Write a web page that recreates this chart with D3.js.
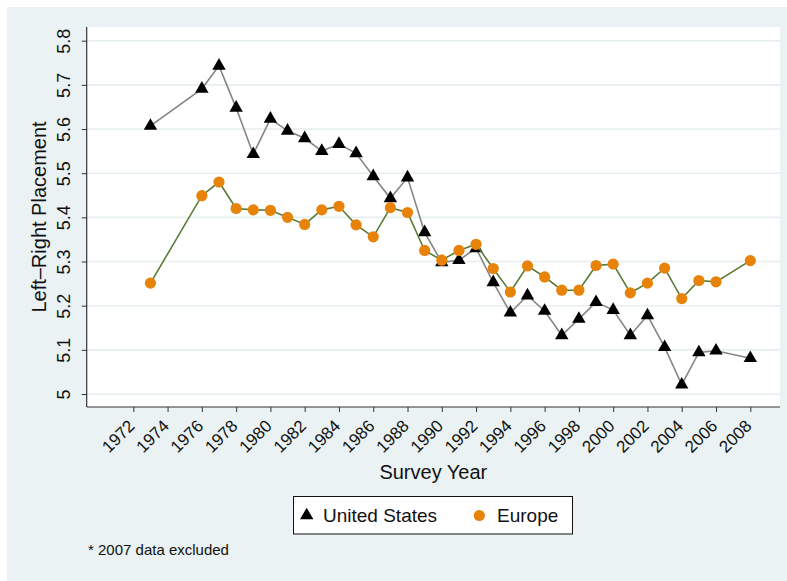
<!DOCTYPE html>
<html lang="en">

<head>
  <meta charset="utf-8">
  <title>Left-Right Placement</title>
  <script src="https://d3js.org/d3.v7.min.js" charset="utf-8"></script>
  <style type="text/css">
    body {
      margin: 0;
      background: #fff;
    }

    text {
      font-family: "Liberation Sans", Arial, sans-serif;
      fill: #111;
    }
  </style>
</head>

<body>

  <svg id="chart"></svg>

  <script type="text/javascript">
    // survey years (2007 excluded)
    const years = [1973, 1976, 1977, 1978, 1979, 1980, 1981, 1982, 1983, 1984, 1985,
      1986, 1987, 1988, 1989, 1990, 1991, 1992, 1993, 1994, 1995, 1996, 1997,
      1998, 1999, 2000, 2001, 2002, 2003, 2004, 2005, 2006, 2008];

    const usValues = [5.607, 5.691, 5.743, 5.648, 5.543, 5.623, 5.596, 5.579, 5.550,
      5.566, 5.545, 5.493, 5.443, 5.490, 5.366, 5.298, 5.303, 5.330, 5.253,
      5.184, 5.223, 5.188, 5.133, 5.170, 5.208, 5.190, 5.133, 5.178, 5.106,
      5.021, 5.094, 5.098, 5.081];

    const europeValues = [5.251, 5.449, 5.480, 5.420, 5.417, 5.416, 5.400, 5.384,
      5.417, 5.425, 5.383, 5.356, 5.422, 5.411, 5.325, 5.303, 5.325, 5.339,
      5.284, 5.231, 5.290, 5.265, 5.235, 5.235, 5.291, 5.294, 5.229, 5.251,
      5.285, 5.216, 5.257, 5.254, 5.302];

    const xTicks = d3.range(1972, 2009, 2);
    const yTicks = [5, 5.1, 5.2, 5.3, 5.4, 5.5, 5.6, 5.7, 5.8];

    const W = 787;
    const H = 581;
    const plot = { left: 86.7, top: 27, right: 780, bottom: 407 };

    const svg = d3.select("#chart")
      .attr("width", W)
      .attr("height", H);

    // outer graph region
    svg.append("rect")
      .attr("x", 7).attr("y", 7)
      .attr("width", W - 7).attr("height", H - 7)
      .attr("fill", "#eaf2f3");

    svg.append("rect")
      .attr("x", plot.left).attr("y", plot.top)
      .attr("width", plot.right - plot.left)
      .attr("height", plot.bottom - plot.top)
      .attr("fill", "#fff");

    const xScale = d3.scaleLinear()
      .domain([1972, 2008])
      .range([133.3, 750.3]);

    const yScale = d3.scaleLinear()
      .domain([5, 5.8])
      .range([394, 40.7]);

    // grid
    svg.append("g")
      .selectAll("line")
      .data(yTicks)
      .join("line")
      .attr("x1", plot.left)
      .attr("x2", plot.right)
      .attr("y1", d => yScale(d))
      .attr("y2", d => yScale(d))
      .attr("stroke", "#e6eef0")
      .attr("stroke-width", 1.6);

    // y axis
    const yAxis = svg.append("g")
      .attr("transform", `translate(${plot.left},0)`)
      .call(d3.axisLeft(yScale)
        .tickValues(yTicks)
        .tickSize(5)
        .tickFormat(d3.format("")));
    yAxis.select(".domain").remove();
    yAxis.selectAll(".tick line").attr("stroke", "#333");
    yAxis.selectAll(".tick text")
      .attr("transform", "rotate(-90)")
      .attr("x", 0)
      .attr("y", -16.5)
      .attr("dy", 0)
      .attr("text-anchor", "middle")
      .style("font-size", "18px")
      .style("font-family", "'Liberation Sans', Arial, sans-serif")
      .attr("fill", "#111");

    // x axis
    const xAxis = svg.append("g")
      .attr("transform", `translate(0,${plot.bottom})`)
      .call(d3.axisBottom(xScale)
        .tickValues(xTicks)
        .tickSize(5)
        .tickFormat(d3.format("d")));
    xAxis.select(".domain").remove();
    xAxis.selectAll(".tick line").attr("stroke", "#333");
    xAxis.selectAll(".tick text")
      .attr("transform", "translate(2,20) rotate(-45)")
      .attr("x", 0)
      .attr("y", 0)
      .attr("dy", 0)
      .attr("text-anchor", "end")
      .style("font-size", "17px")
      .style("font-family", "'Liberation Sans', Arial, sans-serif")
      .attr("fill", "#111");

    // axis lines
    svg.append("line")
      .attr("x1", plot.left).attr("x2", plot.left)
      .attr("y1", plot.top).attr("y2", plot.bottom)
      .attr("stroke", "#333").attr("stroke-width", 1.2);
    svg.append("line")
      .attr("x1", plot.left).attr("x2", plot.right)
      .attr("y1", plot.bottom).attr("y2", plot.bottom)
      .attr("stroke", "#333").attr("stroke-width", 1.2);

    // titles
    svg.append("text")
      .attr("transform", `translate(46,${(plot.top + plot.bottom) / 2}) rotate(-90)`)
      .attr("text-anchor", "middle")
      .style("font-size", "20px")
      .text("Left\u2013Right Placement");

    svg.append("text")
      .attr("x", (plot.left + plot.right) / 2)
      .attr("y", 479)
      .attr("text-anchor", "middle")
      .style("font-size", "20px")
      .text("Survey Year");

    const usData = years.map((y, i) => ({ year: y, value: usValues[i] }));
    const euData = years.map((y, i) => ({ year: y, value: europeValues[i] }));

    const line = d3.line()
      .x(d => xScale(d.year))
      .y(d => yScale(d.value));

    const triangle = d3.symbol().type(d3.symbolTriangle).size(78);

    // United States
    svg.append("path")
      .datum(usData)
      .attr("d", line)
      .attr("fill", "none")
      .attr("stroke", "#858585")
      .attr("stroke-width", 1.6);

    svg.append("g")
      .selectAll("path")
      .data(usData)
      .join("path")
      .attr("d", triangle)
      .attr("transform", d => `translate(${xScale(d.year)},${yScale(d.value)})`)
      .attr("fill", "#000");

    // Europe
    svg.append("path")
      .datum(euData)
      .attr("d", line)
      .attr("fill", "none")
      .attr("stroke", "#5b7b34")
      .attr("stroke-width", 1.6);

    svg.append("g")
      .selectAll("circle")
      .data(euData)
      .join("circle")
      .attr("cx", d => xScale(d.year))
      .attr("cy", d => yScale(d.value))
      .attr("r", 5.6)
      .attr("fill", "#e8830a");

    // legend
    const legend = svg.append("g");
    legend.append("rect")
      .attr("x", 293.5).attr("y", 496.5)
      .attr("width", 279).attr("height", 37.5)
      .attr("fill", "#fff")
      .attr("stroke", "#111")
      .attr("stroke-width", 1);
    legend.append("path")
      .attr("d", triangle)
      .attr("transform", "translate(306.7,515.5)")
      .attr("fill", "#000");
    legend.append("text")
      .attr("x", 323).attr("y", 522)
      .style("font-size", "19px")
      .text("United States");
    legend.append("circle")
      .attr("cx", 479.3).attr("cy", 515.5)
      .attr("r", 5.6)
      .attr("fill", "#e8830a");
    legend.append("text")
      .attr("x", 497).attr("y", 522)
      .style("font-size", "19px")
      .text("Europe");

    // note
    svg.append("text")
      .attr("x", 88).attr("y", 555)
      .style("font-size", "15px")
      .text("* 2007 data excluded");
  </script>
</body>

</html>
